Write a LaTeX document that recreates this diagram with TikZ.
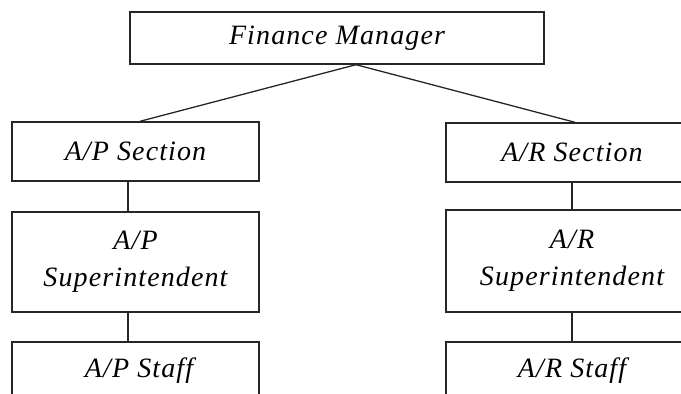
\documentclass[tikz,border=0pt]{standalone}
\usepackage{fontspec}
\setmainfont{Liberation Serif}[LetterSpace=4]
\begin{document}
\begin{tikzpicture}[x=1pt,y=-1pt,
  lbl/.style={font=\fontsize{28}{37}\selectfont\itshape, inner sep=0pt, align=center},
  box/.style={draw=black!85, line width=1.4pt, inner sep=0pt, align=center,
    font=\fontsize{28}{37}\selectfont\itshape},
  link/.style={draw=black!85, line width=1.3pt}]
\useasboundingbox (0,0) rectangle (681,394);
\clip (0,0) rectangle (681,394);
\node[box, minimum width=414, minimum height=52] (fm) at (337,38) {Finance Manager};
\node[box, minimum width=247, minimum height=59] (aps) at (135.5,151.5) {A/P Section};
\node[box, minimum width=247, minimum height=100] (apsup) at (135.5,262) {A/P\\Superintendent};
\node[box, minimum width=247, minimum height=78] (apst) at (135.5,381) {};
\node[lbl] (apstt) at (139,371) {A/P Staff};
\node[box, minimum width=252, minimum height=59] (ars) at (572,152.5) {A/R Section};
\node[box, minimum width=252, minimum height=102] (arsup) at (572,261) {A/R\\Superintendent};
\node[box, minimum width=252, minimum height=78] (arst) at (572,381) {};
\node[lbl] (arstt) at (572,371) {A/R Staff};
\coordinate (fork) at ([xshift=19pt]fm.south);
\draw[link] (fork) -- ([xshift=4.5pt]aps.north);
\draw[link] (fork) -- ([xshift=3pt]ars.north);
\draw[link] ([xshift=-7.5pt]aps.south) -- ([xshift=-7.5pt]apsup.north);
\draw[link] ([xshift=-7.5pt]apsup.south) -- ([xshift=-7.5pt]apst.north);
\draw[link] (ars.south) -- (arsup.north);
\draw[link] (arsup.south) -- (arst.north);
\end{tikzpicture}
\end{document}
